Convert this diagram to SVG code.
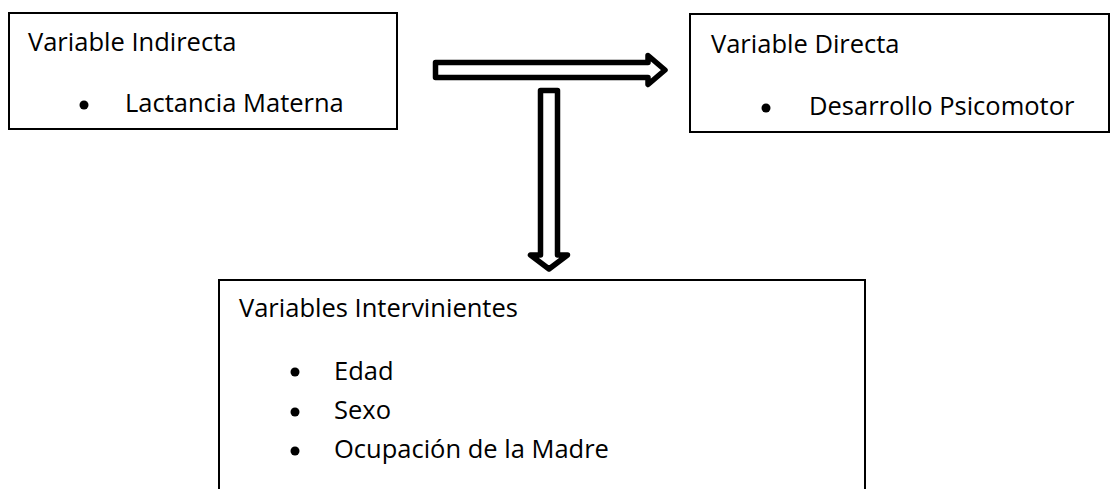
<svg xmlns="http://www.w3.org/2000/svg" width="1112" height="489" viewBox="0 0 1112 489">
<style>
.box{fill:#fff;stroke:#000;stroke-width:2}
.t{font-family:"Open Sans","Liberation Sans",sans-serif;font-size:25.5px;fill:#000}
.arrow{fill:#fff;stroke:#000;stroke-width:5.5;stroke-linejoin:round}
.dot{fill:#000}
</style>
<rect width="1112" height="489" fill="#fff"/>
<g id="node-indirecta">
<rect class="box" x="9" y="13" width="388" height="116"/>
<text class="t" x="28" y="51">Variable Indirecta</text>
<circle class="dot" cx="84" cy="105" r="4.5"/>
<text class="t" x="125" y="112">Lactancia Materna</text>
</g>
<g id="node-directa">
<rect class="box" x="690" y="14" width="419" height="118"/>
<text class="t" x="711" y="53">Variable Directa</text>
<circle class="dot" cx="766" cy="108" r="4.5"/>
<text class="t" x="809" y="115">Desarrollo Psicomotor</text>
</g>
<g id="node-intervinientes">
<path class="box" d="M219,492 V280 H865 V492"/>
<text class="t" x="239" y="317">Variables Intervinientes</text>
<circle class="dot" cx="295" cy="372" r="4.5"/>
<text class="t" x="334" y="380">Edad</text>
<circle class="dot" cx="295" cy="412" r="4.5"/>
<text class="t" x="334" y="419">Sexo</text>
<circle class="dot" cx="295" cy="451" r="4.5"/>
<text class="t" x="334" y="458">Ocupación de la Madre</text>
</g>
<g id="connectors">
<path class="arrow" d="M435.5,62.5 H648 V55.5 L665,70 L648,84.5 V77.5 H435.5 Z"/>
<path class="arrow" d="M540.5,90.5 H557.5 V255 H567.5 L549,269 L530.5,255 H540.5 Z"/>
</g>
</svg>
